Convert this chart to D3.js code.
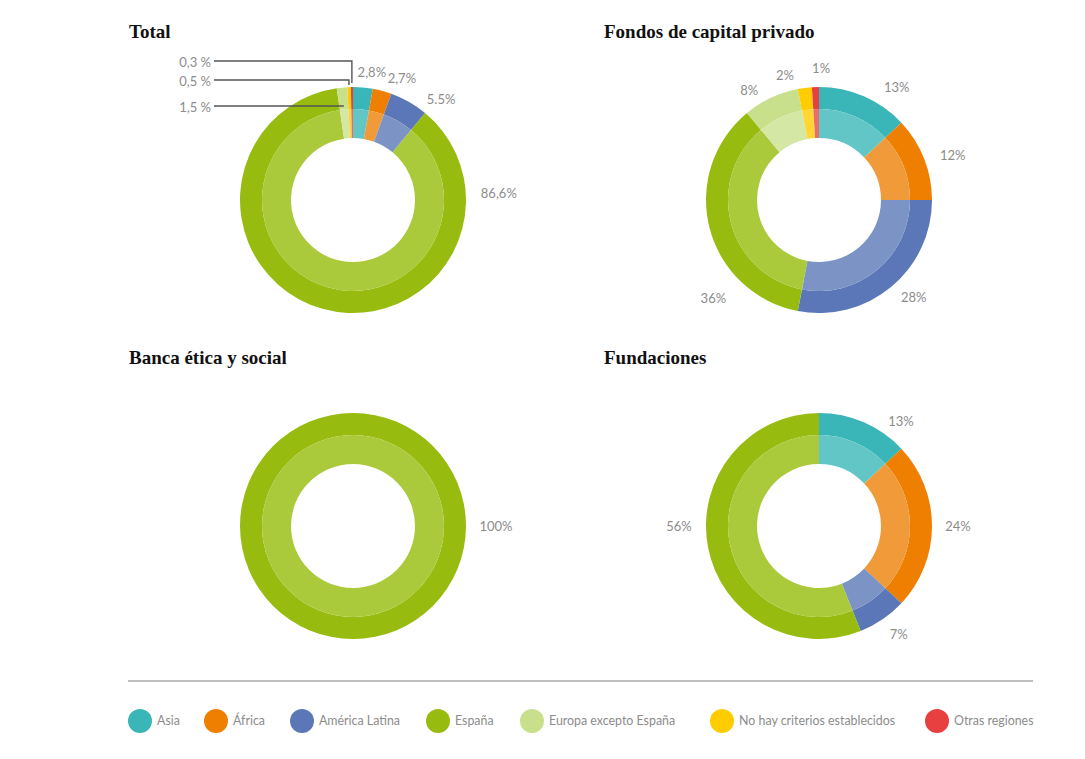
<!DOCTYPE html>
<html><head><meta charset="utf-8">
<script src="https://cdn.jsdelivr.net/npm/d3@7"></script>
<style>
body{margin:0;background:#fff;}
svg{display:block;}
.title{font-family:"Liberation Serif","DejaVu Serif",serif;font-weight:bold;font-size:19px;fill:#111;}
.lbl{font-family:Lato,"Open Sans",sans-serif;font-size:13px;fill:#8c8c8c;}
.leg{font-family:Lato,"Open Sans",sans-serif;font-size:12.4px;fill:#8c8c8c;}
</style></head><body>
<svg id="c" width="1085" height="759"></svg>
<script>
// ---- data ----
const regions = ["Asia","África","América Latina","España","Europa excepto España","No hay criterios establecidos","Otras regiones"];
const chartTitles = ["Total","Fondos de capital privado","Banca ética y social","Fundaciones"];
const totalValues = [2.8, 2.7, 5.5, 86.6, 1.5, 0.5, 0.3];
const totalLabels = ["2,8%","2,7%","5.5%","86,6%","1,5 %","0,5 %","0,3 %"];
const fondosValues = [13, 12, 28, 36, 8, 2, 1];
const fondosLabels = ["13%","12%","28%","36%","8%","2%","1%"];
const bancaValues = [0, 0, 0, 100, 0, 0, 0];
const bancaLabels = ["","","","100%","","",""];
const fundValues = [13, 24, 7, 56, 0, 0, 0];
const fundLabels = ["13%","24%","7%","56%","","",""];

// ---- styles / layout ----
const outerColors = ["#3ab5b8","#ee7f00","#5b77b8","#97bc0f","#c8df8b","#ffcc00","#e84040"];
const innerColors = ["#63c6c6","#f09a3a","#7c93c6","#abca3b","#d5e7a4","#ffd633","#ec6b6b"];
const svg = d3.select("#c");
const R0 = 62, R1 = 91, R2 = 113;
const panels = [
  {cx:353, cy:200, tx:129, ty:38, values:totalValues, labels:totalLabels,
   pos:{0:[8.4,129],1:[21.9,131],2:[41.1,134],3:[87.3,146]}, leaders:{4:106,5:80,6:61}},
  {cx:819, cy:200, tx:604, ty:38, values:fondosValues, labels:fondosLabels,
   pos:{0:[34.6,137],1:[71.4,141],2:[135.9,136],3:[227.2,144],4:[327.5,130],5:[344.8,129.5],6:[0.9,132]}},
  {cx:353, cy:526, tx:129, ty:364, values:bancaValues, labels:bancaLabels,
   pos:{3:[90,143]}},
  {cx:819, cy:526, tx:604, ty:364, values:fundValues, labels:fundLabels,
   pos:{0:[38,133],1:[90,139],2:[143.5,134],3:[270,140]}}
];

const pie = d3.pie().sort(null).value(d=>d.v);
const arcOuter = d3.arc().innerRadius(R1).outerRadius(R2);
const arcInner = d3.arc().innerRadius(R0).outerRadius(R1);

panels.forEach((p,pi)=>{
  svg.append("text").attr("class","title").attr("x",p.tx).attr("y",p.ty).text(chartTitles[pi]);
  const g = svg.append("g").attr("transform",`translate(${p.cx},${p.cy})`);
  const data = pie(p.values.map((v,i)=>({v,i})));
  const shown = data.filter(d=>d.data.v>0);
  g.selectAll("path.o").data(shown).join("path").attr("class","o")
    .attr("d",arcOuter).attr("fill",d=>outerColors[d.data.i]);
  g.selectAll("path.i").data(shown).join("path").attr("class","i")
    .attr("d",arcInner).attr("fill",d=>innerColors[d.data.i]);
  // labels
  Object.keys(p.pos).forEach(k=>{
    const [a,r] = p.pos[k]; const rad = a*Math.PI/180;
    g.append("text").attr("class","lbl")
      .attr("x", r*Math.sin(rad)).attr("y", -r*Math.cos(rad)+1.5)
      .attr("text-anchor","middle").attr("dominant-baseline","middle")
      .text(p.labels[+k]);
  });
  // leader lines for tiny slices
  if (p.leaders){
    Object.keys(p.leaders).forEach(k=>{
      const d = data[+k]; const ly = p.leaders[k] - p.cy;
      const mid = (d.startAngle+d.endAngle)/2;
      let pts;
      if (+k===4){
        const x = ly*Math.tan(mid)*-1;
        pts = [[-139,ly],[x,ly]];
      } else {
        const x = (R2+4)*Math.sin(mid);
        const yEnd = -(R2+ (+k===6?4:2));
        pts = [[-139,ly],[x,ly],[x,yEnd]];
      }
      g.append("path").attr("d",d3.line()(pts)).attr("fill","none")
        .attr("stroke","#555").attr("stroke-width",1.4);
      g.append("text").attr("class","lbl").attr("x",-142).attr("y",ly+3)
        .attr("text-anchor","end").attr("dominant-baseline","middle").text(p.labels[+k]);
    });
  }
});

// separator
svg.append("line").attr("x1",128).attr("x2",1033).attr("y1",681).attr("y2",681)
  .attr("stroke","#a8a8a8").attr("stroke-width",1.5);

// legend
const legX = [140,216,302,438,532,722,937];
const lg = svg.selectAll("g.legg").data(regions).join("g").attr("class","legg")
  .attr("transform",(d,i)=>`translate(${legX[i]},721)`);
lg.append("circle").attr("r",12).attr("fill",(d,i)=>outerColors[i]);
lg.append("text").attr("class","leg").attr("x",17).attr("y",1)
  .attr("dominant-baseline","middle").text(d=>d);
</script>
</body></html>
